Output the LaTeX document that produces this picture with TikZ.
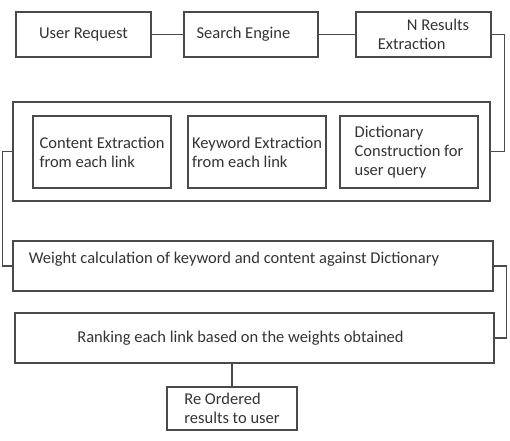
\documentclass[tikz,border=0pt]{standalone}
\usepackage{fontspec}
\setmainfont{Carlito}
\usetikzlibrary{positioning,calc}
\definecolor{edge}{HTML}{4A4A4A}
\definecolor{ink}{HTML}{333333}

\begin{document}
\begin{tikzpicture}[
    x=1pt, y=-1pt,
    box/.style={draw=edge, line width=1.4pt, rectangle, inner sep=2pt,
        align=left, text=ink, font=\fontsize{16.5}{19}\selectfont},
    link/.style={draw=edge, line width=1.4pt},
]
\useasboundingbox (0,0) rectangle (510,440);

% ===== TOP ROW =====
\node[box, minimum width=135pt, minimum height=45pt] (req) at (83.5,34.5) {User Request};
\node[box, minimum width=134pt, minimum height=45pt] (eng) at (251,34.5) {Search Engine\hspace*{15pt}};
\node[box, minimum width=135pt, minimum height=45pt] (nres) at (423.5,34.5) {\hspace{29pt}N Results\\Extraction};

\draw[link] (req) -- (eng);
\draw[link] (eng) -- (nres);

% ===== EXTRACTION GROUP =====
\node[box, minimum width=477pt, minimum height=99pt] (group) at (251.5,151.5) {};
\node[box, minimum width=138pt, minimum height=72pt] (cont) at (102,152) {Content Extraction\\from each link};
\node[box, minimum width=138pt, minimum height=72pt] (kw) at (257,152) {Keyword Extraction\\from each link};
\node[box, minimum width=138pt, minimum height=72pt] (dict) at (409,152) {Dictionary\\Construction for\\user query};

\draw[link] (nres.east) -- ++(13,0) |- (group.east);

% ===== WEIGHTING AND RANKING =====
\node[box, minimum width=480pt, minimum height=50pt] (weight) at (253,266)
    {Weight calculation of keyword and content against Dictionary\hspace*{38pt}\\[-8pt]\strut};
\node[box, minimum width=479pt, minimum height=50pt] (rank) at (254.5,338)
    {Ranking each link based on the weights obtained\hspace*{28pt}};
\node[box, minimum width=130pt, minimum height=43pt] (reord) at (232,408.5)
    {Re Ordered\\results to user};

\draw[link] (group.west) -- ++(-10,0) |- (weight.west);
\draw[link] (weight.east) -- ++(13,0) |- (rank.east);
\draw[link] (reord.north |- rank.south) -- (reord.north);

\end{tikzpicture}
\end{document}
